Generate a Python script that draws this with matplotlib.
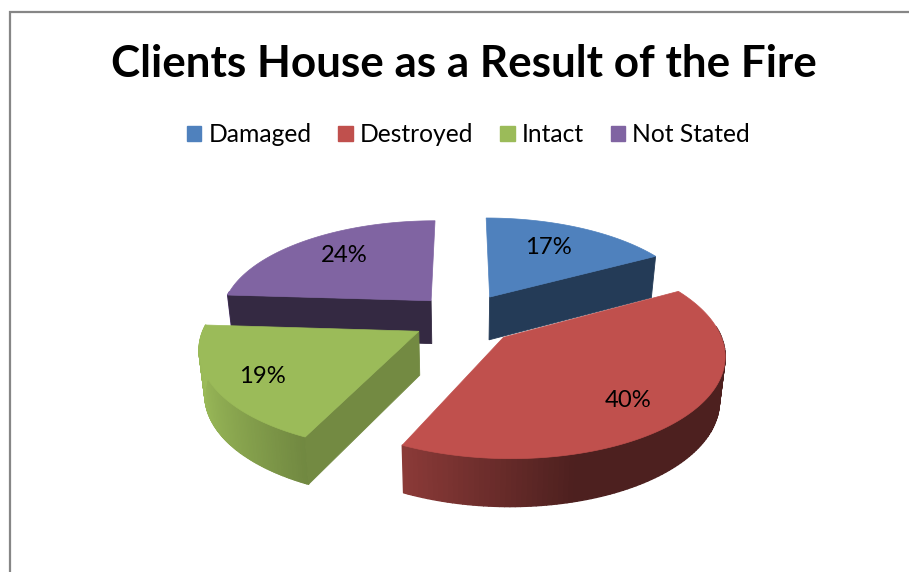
import numpy as np
import matplotlib
matplotlib.use("Agg")
import matplotlib.pyplot as plt
from matplotlib.patches import Polygon, Patch
from matplotlib.collections import PolyCollection
from matplotlib.colors import to_rgb

title = "Clients House as a Result of the Fire"
categories = ["Damaged", "Destroyed", "Intact", "Not Stated"]
values = [17, 40, 19, 24]
colors = ["#4f81bd", "#c0504d", "#9bbb59", "#8064a2"]
offset_x = [0.135, 0.19, -0.2, -0.15]
offset_y = [0.234, -0.184, -0.124, 0.194]
wall_side = ["end", None, "start", "start"]   # which straight cut faces the viewer
wall_shade = [0.46, 0.0, 0.74, 0.41]
label_xy = [(548, 247), (628, 400.5), (262, 376.5), (344, 256)]
draw_order = [3, 0, 2, 1]

CX, CY, A, B, K, DEPTH, SHRINK = 462, 319, 212, 97, 0.15, 43.5, 0.978


def project(X, Y):
    f = 1 + K * Y
    return CX + A * X / f, CY - B * Y / f, DEPTH / np.sqrt(f)


def lower(x):
    return CX + (x - CX) * SHRINK


def shade(rgb, t):
    fac = np.clip(0.52 - 0.48 * np.sin(t), 0.40, 1.0)
    return tuple(c * fac for c in rgb)


fig = plt.figure(figsize=(9.09, 5.72), dpi=100)
ax = fig.add_axes([0, 0, 1, 1])
ax.set_xlim(0, 909)
ax.set_ylim(572, 0)
ax.axis("off")

ax.plot([9.5, 9.5, 909], [572, 12, 12], color="#868686", lw=1.6, solid_joinstyle="miter")

edges = np.cumsum([0] + values) / sum(values) * 2 * np.pi
for z, i in enumerate(draw_order):
    ts = np.linspace(edges[i], edges[i + 1], 121)
    base = to_rgb(colors[i])
    ox, oy = offset_x[i], offset_y[i]
    px, py, pd = project(ox, oy)
    xs, ys, ds = project(ox + np.sin(ts), oy + np.cos(ts))

    # outer wall, front-facing part
    quads, cols = [], []
    for j in range(len(ts) - 1):
        mid = 0.5 * (ts[j] + ts[j + 1])
        if np.cos(mid) < 0.1:
            quads.append([(xs[j], ys[j]), (xs[j + 1], ys[j + 1]),
                          (lower(xs[j + 1]), ys[j + 1] + ds[j + 1]),
                          (lower(xs[j]), ys[j] + ds[j])])
            cols.append(shade(base, mid))
    if quads:
        ax.add_collection(PolyCollection(quads, facecolors=cols, edgecolors=cols,
                                         linewidths=1.0, zorder=2 + z))

    # straight cut wall facing the viewer
    if wall_side[i] is not None:
        k = -1 if wall_side[i] == "end" else 0
        wc = tuple(c * wall_shade[i] for c in base)
        ax.add_patch(Polygon([(px, py), (xs[k], ys[k]),
                              (lower(xs[k]), ys[k] + ds[k]), (lower(px), py + pd)],
                             closed=True, fc=wc, ec=wc, lw=0.6, zorder=2 + z))

    # top face
    ax.add_patch(Polygon(np.vstack([[px, py], np.column_stack([xs, ys])]),
                         closed=True, fc=base, ec=base, lw=0.5, zorder=2.5 + z))
    ax.text(*label_xy[i], f"{values[i]}%", ha="center", va="center",
            fontsize=17.2, family="Lato", color="black", zorder=10)

ax.text(464, 64, title, ha="center", va="center", fontsize=31.7, fontweight="bold",
        family="Lato", color="black")
handles = [Patch(fc=c, ec=c) for c in colors]
ax.legend(handles, categories, loc="center", bbox_to_anchor=(468.5 / 909, 1 - 134.5 / 572),
          ncol=4, frameon=False, handlelength=0.58, handleheight=0.58,
          handletextpad=0.3, columnspacing=1.09, prop={"family": "Lato", "size": 17.7})

fig.savefig("out.png", dpi=100)
